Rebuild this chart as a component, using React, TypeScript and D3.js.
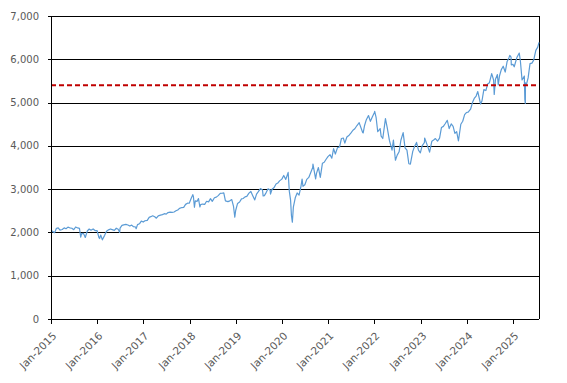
import React from "react";
import * as d3 from "d3";

const dates: string[] = [
"2015-01-02","2015-01-15","2015-01-30","2015-02-13","2015-02-27","2015-03-13","2015-03-31","2015-04-15","2015-04-30","2015-05-15","2015-05-29","2015-06-15","2015-06-30","2015-07-15","2015-07-31","2015-08-14","2015-08-24","2015-08-31","2015-09-15","2015-09-29","2015-10-15","2015-10-30","2015-11-13","2015-11-30","2015-12-15","2015-12-31",
"2016-01-15","2016-01-20","2016-01-29","2016-02-11","2016-02-29","2016-03-15","2016-03-31","2016-04-15","2016-04-29","2016-05-16","2016-05-31","2016-06-15","2016-06-27","2016-06-30","2016-07-15","2016-07-29","2016-08-15","2016-08-31","2016-09-15","2016-09-30","2016-10-14","2016-10-31","2016-11-04","2016-11-15","2016-11-30","2016-12-15","2016-12-30",
"2017-01-13","2017-01-31","2017-02-15","2017-02-28","2017-03-15","2017-03-31","2017-04-13","2017-04-28","2017-05-15","2017-05-31","2017-06-15","2017-06-30","2017-07-14","2017-07-31","2017-08-15","2017-08-31","2017-09-15","2017-09-29","2017-10-13","2017-10-31","2017-11-15","2017-11-30","2017-12-15","2017-12-29",
"2018-01-12","2018-01-26","2018-01-31","2018-02-08","2018-02-15","2018-02-28","2018-03-12","2018-03-23","2018-03-29","2018-04-13","2018-04-30","2018-05-15","2018-05-31","2018-06-15","2018-06-29","2018-07-16","2018-07-31","2018-08-15","2018-08-31","2018-09-14","2018-09-28","2018-10-11","2018-10-31","2018-11-15","2018-11-30","2018-12-14","2018-12-24","2018-12-31",
"2019-01-15","2019-01-31","2019-02-15","2019-02-28","2019-03-15","2019-03-29","2019-04-15","2019-04-30","2019-05-15","2019-05-31","2019-06-14","2019-06-28","2019-07-15","2019-07-31","2019-08-05","2019-08-15","2019-08-30","2019-09-13","2019-09-30","2019-10-02","2019-10-15","2019-10-31","2019-11-15","2019-11-29","2019-12-13","2019-12-31",
"2020-01-15","2020-01-31","2020-02-19","2020-02-28","2020-03-09","2020-03-16","2020-03-23","2020-03-31","2020-04-15","2020-04-30","2020-05-15","2020-05-29","2020-06-08","2020-06-15","2020-06-30","2020-07-15","2020-07-31","2020-08-14","2020-08-31","2020-09-02","2020-09-23","2020-09-30","2020-10-15","2020-10-30","2020-11-16","2020-11-30","2020-12-15","2020-12-31",
"2021-01-15","2021-01-29","2021-02-12","2021-02-26","2021-03-15","2021-03-31","2021-04-15","2021-04-30","2021-05-12","2021-05-28","2021-06-15","2021-06-30","2021-07-15","2021-07-30","2021-08-16","2021-08-31","2021-09-02","2021-09-30","2021-10-04","2021-10-15","2021-10-29","2021-11-15","2021-11-30","2021-12-15","2021-12-31",
"2022-01-03","2022-01-14","2022-01-27","2022-02-15","2022-02-23","2022-03-08","2022-03-29","2022-04-14","2022-04-29","2022-05-20","2022-05-31","2022-06-16","2022-06-30","2022-07-15","2022-07-29","2022-08-16","2022-08-31","2022-09-15","2022-09-30","2022-10-12","2022-10-31","2022-11-15","2022-11-30","2022-12-15","2022-12-30",
"2023-01-13","2023-01-31","2023-02-02","2023-02-28","2023-03-13","2023-03-31","2023-04-14","2023-04-28","2023-05-15","2023-05-31","2023-06-15","2023-06-30","2023-07-14","2023-07-31","2023-08-15","2023-08-31","2023-09-15","2023-09-29","2023-10-13","2023-10-27","2023-11-15","2023-11-30","2023-12-15","2023-12-29",
"2024-01-12","2024-01-31","2024-02-15","2024-02-29","2024-03-15","2024-03-28","2024-04-19","2024-04-30","2024-05-15","2024-05-31","2024-06-14","2024-06-28","2024-07-16","2024-07-31","2024-08-05","2024-08-15","2024-08-30","2024-09-06","2024-09-16","2024-09-30","2024-10-15","2024-10-31","2024-11-15","2024-11-29","2024-12-06","2024-12-16","2024-12-18","2024-12-31",
"2025-01-10","2025-01-31","2025-02-19","2025-02-28","2025-03-13","2025-03-31","2025-04-04","2025-04-08","2025-04-09","2025-04-15","2025-04-30","2025-05-15","2025-05-30","2025-06-13","2025-06-30","2025-07-15","2025-07-25"
];

const values: number[] = [
2058,2019,1995,2096,2105,2053,2068,2106,2086,2122,2107,2097,2063,2126,2104,2092,1893,1972,1978,1884,2033,2079,2050,2080,2043,2044,
1880,1859,1940,1829,1932,2027,2060,2080,2065,2047,2097,2071,2001,2099,2162,2174,2185,2171,2147,2168,2133,2126,2085,2181,2199,2262,2239,
2270,2279,2349,2364,2385,2363,2329,2384,2400,2412,2433,2423,2459,2470,2465,2472,2500,2519,2557,2575,2578,2648,2675,2674,
2776,2873,2824,2581,2732,2714,2783,2588,2641,2656,2648,2720,2705,2780,2718,2800,2816,2850,2901,2905,2914,2728,2711,2730,2760,2600,2351,2507,
2670,2704,2775,2784,2822,2834,2907,2946,2850,2752,2886,2942,3014,2980,2844,2850,2926,3007,2977,2887,2996,3038,3120,3141,3191,3231,
3316,3226,3386,2954,2747,2386,2237,2585,2800,2912,2864,3044,3232,3066,3100,3226,3271,3373,3500,3580,3237,3363,3500,3270,3600,3622,3690,3756,
3795,3714,3934,3811,3960,3973,4170,4181,4063,4204,4247,4298,4360,4395,4470,4523,4537,4307,4300,4471,4605,4700,4567,4668,4766,
4797,4660,4326,4400,4225,4170,4630,4390,4132,3901,4132,3667,3785,3863,4130,4305,3955,3900,3586,3577,3872,3990,4080,3900,3840,
3999,4077,4180,3970,3855,4109,4137,4169,4110,4180,4425,4450,4510,4589,4400,4508,4450,4288,4327,4117,4500,4568,4720,4770,
4780,4846,5000,5096,5150,5254,4967,5036,5300,5278,5430,5460,5667,5522,5186,5540,5648,5408,5620,5762,5840,5705,5950,6032,6090,6050,5872,5882,
5827,6040,6144,5955,5522,5612,5074,4982,5457,5400,5569,5900,5912,5980,6205,6280,6389
];

const yTicks: number[] = [0, 1000, 2000, 3000, 4000, 5000, 6000, 7000];
const xTickYears: number[] = [2015, 2016, 2017, 2018, 2019, 2020, 2021, 2022, 2023, 2024, 2025];
const refLevel = 5400;

const W = 567, H = 383;
const left = 51, right = 539, top = 16, bottom = 319;

export default function App() {
  const parse = d3.timeParse("%Y-%m-%d");
  const data = dates.map((d, i) => ({ date: parse(d) as Date, v: values[i] }));
  const x = d3.scaleTime()
    .domain([new Date(2015, 0, 1), data[data.length - 1].date])
    .range([left, right]);
  const y = d3.scaleLinear().domain([0, 7000]).range([bottom, top]);
  const line = d3.line<{ date: Date; v: number }>()
    .x(d => x(d.date))
    .y(d => y(d.v));
  const fmt = d3.format(",");
  const tickFmt = d3.timeFormat("%b-%Y");
  const font = "'DejaVu Sans', Verdana, sans-serif";
  return (
    <svg width={W} height={H} style={{ position: "absolute", left: 0, top: 0, background: "#fff" }}>
      {yTicks.map(t => (
        <g key={t}>
          <line x1={left - 3} x2={t > 0 ? right : left} y1={Math.round(y(t)) + 0.5} y2={Math.round(y(t)) + 0.5} stroke="#000" strokeWidth={1} />
          <text x={39} y={y(t)} dy="0.35em" textAnchor="end" fontSize={10} fill="#595959" fontFamily={font}>
            {fmt(t)}
          </text>
        </g>
      ))}
      <line x1={right + 0.5} x2={right + 0.5} y1={top} y2={bottom} stroke="#000" strokeWidth={1} />
      <path d={line(data) || ""} fill="none" stroke="#5b9bd5" strokeWidth={1.2} strokeLinejoin="round" />
      <line x1={left} x2={right} y1={y(refLevel)} y2={y(refLevel)} stroke="#c00000" strokeWidth={2} strokeDasharray="5,3" />
      <line x1={left + 0.5} x2={left + 0.5} y1={top} y2={bottom} stroke="#000" strokeWidth={1} />
      <line x1={left} x2={right} y1={Math.round(bottom) + 0.5} y2={Math.round(bottom) + 0.5} stroke="#000" strokeWidth={1.2} />
      {xTickYears.map(yr => {
        const d = new Date(yr, 0, 1);
        const tx = Math.round(x(d)) + 0.5;
        return (
          <g key={yr}>
            <line x1={tx} x2={tx} y1={bottom} y2={bottom + 5} stroke="#000" strokeWidth={1} />
            <text transform={`translate(${tx + 3},${bottom + 15}) rotate(-45)`} textAnchor="end" dy="0.35em" fontSize={10.5} fill="#595959" fontFamily={font}>
              {tickFmt(d)}
            </text>
          </g>
        );
      })}
    </svg>
  );
}
